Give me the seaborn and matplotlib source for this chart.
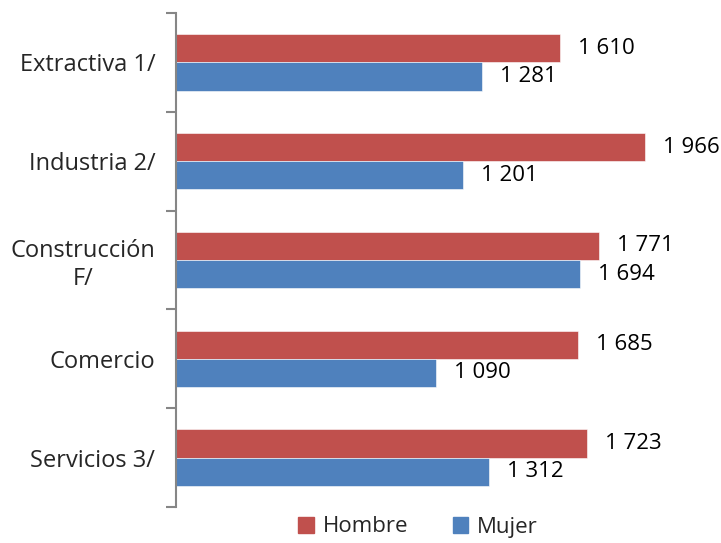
import pandas as pd
import matplotlib.pyplot as plt
import seaborn as sns

# data
sectores = ['Extractiva 1/', 'Industria 2/', 'Construcción\nF/', 'Comercio', 'Servicios 3/']
hombre = [1610, 1966, 1771, 1685, 1723]
mujer = [1281, 1201, 1694, 1090, 1312]
series = ['Hombre', 'Mujer']
colores = ['#C0504D', '#4F81BD']

df = pd.DataFrame({
    'Sector': sectores * 2,
    'Valor': hombre + mujer,
    'Sexo': [series[0]] * len(sectores) + [series[1]] * len(sectores),
})

sns.set_style('white')
plt.rcParams['font.family'] = ['Open Sans', 'DejaVu Sans']

fig = plt.figure(figsize=(7.21, 5.43), dpi=100)
ax = fig.add_axes([176 / 721, 36 / 543, 545 / 721, 494 / 543])

sns.barplot(data=df, y='Sector', x='Valor', hue='Sexo', hue_order=series,
            palette=colores, saturation=1, orient='h', width=0.57, ax=ax,
            edgecolor='white', linewidth=0.4, legend=False)

# value labels
for cont in ax.containers:
    labels = [f"{int(v):,}".replace(',', ' ') for v in cont.datavalues]
    ax.bar_label(cont, labels=labels, padding=13, fontsize=16, color='black')

ax.set_xlim(0, 2284)
ax.set_ylim(4.5, -0.5)
ax.set_xlabel('')
ax.set_ylabel('')
ax.set_xticks([])

# category ticks at band boundaries, labels in the middle
ax.set_yticks([i - 0.5 for i in range(len(sectores) + 1)])
ax.set_yticklabels([])
ax.set_yticks(range(len(sectores)), minor=True)
ax.set_yticklabels(sectores, minor=True, fontsize=17, multialignment='center')
ax.tick_params(axis='y', which='major', length=7, width=1.5, color='#868686', direction='out', left=True)
ax.tick_params(axis='y', which='minor', length=0, pad=15)

for s in ['top', 'right', 'bottom']:
    ax.spines[s].set_visible(False)
ax.spines['left'].set_color('#868686')
ax.spines['left'].set_linewidth(1.5)

handles = [plt.Rectangle((0, 0), 1, 1, color=c) for c in colores]
fig.legend(handles, series, loc='center', bbox_to_anchor=(418 / 721, 1 - 527 / 543),
           ncol=2, frameon=False, fontsize=16, handlelength=0.7, handleheight=0.7,
           handletextpad=0.4, columnspacing=2.0)

plt.savefig('out.png', dpi=100)
